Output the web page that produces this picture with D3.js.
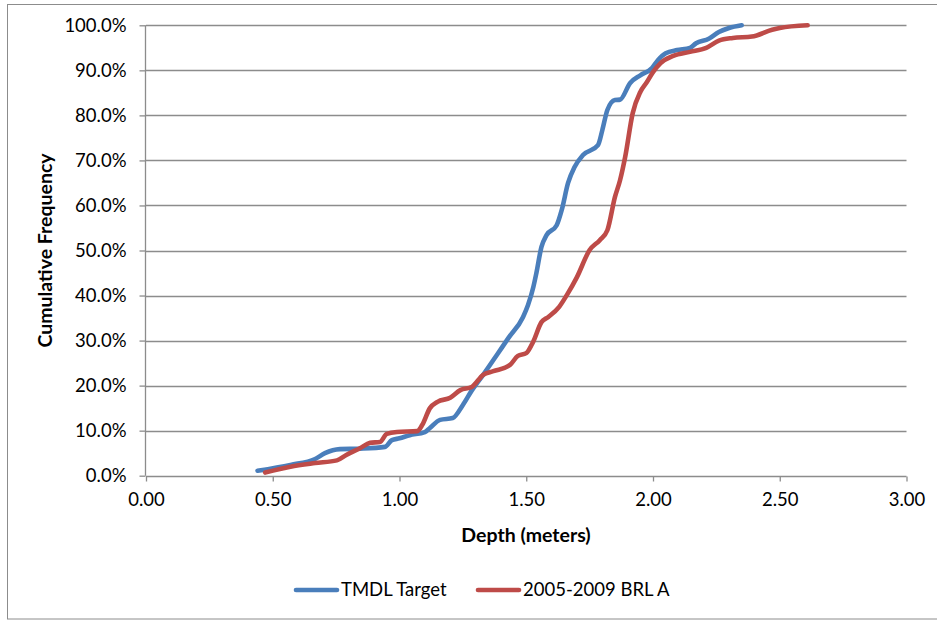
<!DOCTYPE html>
<html>
<head>
<meta charset="utf-8">
<script src="https://cdn.jsdelivr.net/npm/d3@7"></script>
<style>
  body { margin: 0; background: #fff; }
  svg { display: block; font-family: Lato, "Open Sans", sans-serif; }
</style>
</head>
<body>
<svg id="main"></svg>
<script>
//--------data----------
// depth (m) and cumulative frequency (%)
const tmdlDepth = [0.44, 0.57, 0.667, 0.706, 0.765, 0.844, 0.943, 0.97, 1.0, 1.04, 1.10, 1.12, 1.16, 1.21, 1.25, 1.286, 1.33, 1.384, 1.43, 1.487, 1.507, 1.528, 1.54, 1.56, 1.58, 1.62, 1.64, 1.665, 1.69, 1.724, 1.783, 1.80, 1.82, 1.85, 1.87, 1.91, 1.95, 1.996, 2.02, 2.05, 2.095, 2.146, 2.17, 2.22, 2.26, 2.30, 2.35];
const tmdlFreq  = [1.1, 2.4, 3.7, 5.0, 5.9, 6.0, 6.4, 7.9, 8.3, 9.0, 9.7, 10.6, 12.4, 12.8, 15.7, 19.0, 22.4, 26.8, 30.6, 35.2, 37.9, 41.9, 45.0, 50.8, 53.4, 55.6, 59.0, 65.0, 68.5, 71.2, 73.4, 76.7, 81.2, 83.4, 83.5, 87.2, 88.9, 90.5, 92.3, 93.8, 94.5, 95.0, 96.0, 97.0, 98.5, 99.4, 100.0];

const brlDepth = [0.47, 0.57, 0.667, 0.753, 0.79, 0.844, 0.884, 0.923, 0.95, 0.99, 1.07, 1.09, 1.12, 1.15, 1.20, 1.24, 1.285, 1.33, 1.37, 1.436, 1.467, 1.50, 1.527, 1.56, 1.586, 1.63, 1.66, 1.70, 1.75, 1.79, 1.82, 1.85, 1.87, 1.89, 1.92, 1.95, 1.976, 2.0, 2.03, 2.08, 2.146, 2.21, 2.26, 2.315, 2.39, 2.47, 2.50, 2.61];
const brlFreq  = [0.7, 2.0, 2.8, 3.4, 4.6, 6.1, 7.3, 7.5, 9.3, 9.7, 9.9, 11.3, 15.0, 16.4, 17.3, 19.0, 19.7, 22.4, 23.2, 24.6, 26.6, 27.2, 29.7, 34.1, 35.2, 37.5, 40.1, 44.1, 50.1, 52.3, 54.5, 61.9, 65.6, 70.7, 80.5, 85.2, 87.4, 89.6, 91.6, 93.2, 94.1, 95.0, 96.6, 97.2, 97.5, 99.0, 99.4, 100.0];

const seriesNames = ['TMDL Target', '2005-2009 BRL A'];
const seriesColors = ['#4a7ebb', '#be4b48'];
const xTicks = [0, 0.5, 1, 1.5, 2, 2.5, 3];
const yTicks = [0, 10, 20, 30, 40, 50, 60, 70, 80, 90, 100];

//--------code----------
const width = 937, height = 621;
const fontSize = '18.5px';
const svg = d3.select('#main').attr('width', width).attr('height', height);

// chart area border
svg.append('rect')
  .attr('x', 7.5).attr('y', 4.5)
  .attr('width', 940).attr('height', 614.5)
  .attr('fill', 'none').attr('stroke', '#8c8c8c');

const sx = d3.scaleLinear().domain([0, 3]).range([146, 906.5]);
const sy = d3.scaleLinear().domain([0, 100]).range([475.7, 25.3]);

// gridlines
svg.append('g')
  .selectAll('line')
  .data(yTicks.filter(d => d > 0))
  .join('line')
  .attr('x1', sx(0)).attr('x2', sx(3))
  .attr('y1', d => Math.round(sy(d)) + 0.5)
  .attr('y2', d => Math.round(sy(d)) + 0.5)
  .attr('stroke', '#8c8c8c').attr('stroke-width', 1.3);

// axes
const ax = d3.axisBottom(sx).tickValues(xTicks).tickSize(5).tickPadding(11)
  .tickFormat(d3.format('.2f'));
const ay = d3.axisLeft(sy).tickValues(yTicks).tickSize(6).tickPadding(13)
  .tickFormat(d => d3.format('.1f')(d) + '%');

const gx = svg.append('g')
  .attr('transform', `translate(0,${Math.round(sy(0)) + 0.5})`)
  .call(ax);
const gy = svg.append('g')
  .attr('transform', `translate(${Math.round(sx(0)) - 0.5},0)`)
  .call(ay);

[gx, gy].forEach(g => {
  g.select('.domain').attr('stroke', '#8c8c8c').attr('stroke-width', 1.3);
  g.selectAll('.tick line').attr('stroke', '#8c8c8c').attr('stroke-width', 1.3);
  g.selectAll('.tick text')
    .attr('fill', '#000')
    .style('font-size', fontSize)
    .style('font-family', 'Lato, "Open Sans", sans-serif');
});
gy.select('.domain').attr('d', `M0,${sy(100)}V${sy(0)}`);
gx.select('.domain').attr('d', `M${sx(0)},0H${sx(3)}`);

// axis titles
svg.append('text')
  .attr('x', 526).attr('y', 542)
  .attr('text-anchor', 'middle')
  .style('font-weight', 'bold').style('font-size', '19.5px')
  .text('Depth (meters)');
svg.append('text')
  .attr('transform', `translate(52,${(sy(0) + sy(100)) / 2}) rotate(-90)`)
  .attr('text-anchor', 'middle')
  .style('font-weight', 'bold').style('font-size', '19.5px')
  .text('Cumulative Frequency');

// series
const series = [
  tmdlDepth.map((d, i) => ({x: d, y: tmdlFreq[i]})),
  brlDepth.map((d, i) => ({x: d, y: brlFreq[i]}))
];
const line = d3.line()
  .x(d => sx(d.x))
  .y(d => sy(d.y))
  .curve(d3.curveMonotoneX);

svg.append('g')
  .selectAll('path')
  .data(series)
  .join('path')
  .attr('d', line)
  .attr('fill', 'none')
  .attr('stroke', (d, i) => seriesColors[i])
  .attr('stroke-width', 4.6)
  .attr('stroke-linejoin', 'round')
  .attr('stroke-linecap', 'round');

// legend
const legendX = [296, 478];
const legend = svg.append('g')
  .selectAll('g')
  .data(seriesNames)
  .join('g')
  .attr('transform', (d, i) => `translate(${legendX[i]},590)`);
legend.append('line')
  .attr('x1', 0).attr('x2', 41)
  .attr('stroke', (d, i) => seriesColors[i])
  .attr('stroke-width', 4.6)
  .attr('stroke-linecap', 'round');
legend.append('text')
  .attr('x', 45).attr('dy', '0.35em')
  .style('font-size', fontSize)
  .text(d => d);
</script>
</body>
</html>
